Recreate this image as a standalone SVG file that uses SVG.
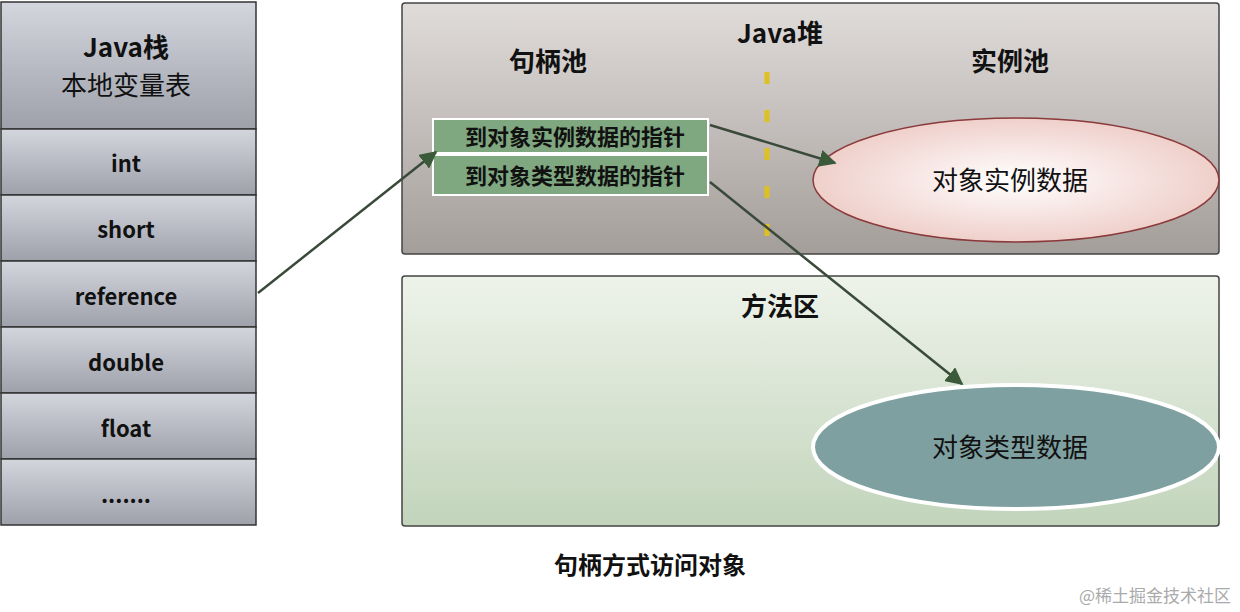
<svg xmlns="http://www.w3.org/2000/svg" width="1240" height="612" viewBox="0 0 1240 612">
<style>
text{font-family:"Noto Sans CJK SC","Noto Sans",sans-serif;text-anchor:middle;fill:#111}
.b{font-weight:bold}
.cell{stroke:#333;stroke-width:1.5}
.ptr{fill:#7fa880;stroke:#fff;stroke-width:2}
.conn{stroke:#3a4a3a;stroke-width:2.5;fill:none;marker-end:url(#ah)}
</style>
<defs>
<linearGradient id="gs" x1="0" y1="0" x2="0" y2="1"><stop offset="0" stop-color="#d4d6de"/><stop offset="1" stop-color="#9ea0aa"/></linearGradient>
<linearGradient id="gh" x1="0" y1="0" x2="0" y2="1"><stop offset="0" stop-color="#e0dcda"/><stop offset="1" stop-color="#a49e9a"/></linearGradient>
<linearGradient id="gm" x1="0" y1="0" x2="0" y2="1"><stop offset="0" stop-color="#eef3ea"/><stop offset="1" stop-color="#c2d4bb"/></linearGradient>
<radialGradient id="ge1" cx="0.5" cy="0.5" r="0.6"><stop offset="0" stop-color="#fff"/><stop offset="1" stop-color="#ecc6c0"/></radialGradient>
<marker id="ah" viewBox="0 0 10 10" refX="9" refY="5" markerWidth="7" markerHeight="7" orient="auto"><path d="M0,0L10,5L0,10z" fill="#3a5a3a"/></marker>
</defs>
<rect width="1240" height="612" fill="#fff"/>
<g id="stack">
<rect class="cell" x="1" y="2" width="255" height="127" fill="url(#gs)"/>
<text x="126" y="57" font-size="26" class="b">Java栈</text>
<text x="126" y="95" font-size="26">本地变量表</text>
<rect class="cell" x="1" y="129" width="255" height="66" fill="url(#gs)"/><text x="126" y="172" font-size="22" class="b">int</text>
<rect class="cell" x="1" y="195" width="255" height="66" fill="url(#gs)"/><text x="126" y="238" font-size="22" class="b">short</text>
<rect class="cell" x="1" y="261" width="255" height="66" fill="url(#gs)"/><text x="126" y="305" font-size="22" class="b">reference</text>
<rect class="cell" x="1" y="327" width="255" height="66" fill="url(#gs)"/><text x="126" y="371" font-size="22" class="b">double</text>
<rect class="cell" x="1" y="393" width="255" height="66" fill="url(#gs)"/><text x="126" y="437" font-size="22" class="b">float</text>
<rect class="cell" x="1" y="459" width="255" height="66" fill="url(#gs)"/><text x="126" y="503" font-size="22" class="b">.......</text>
</g>
<g id="heap">
<rect x="402" y="3" width="817" height="251" rx="3" fill="url(#gh)" stroke="#444" stroke-width="1.5"/>
<text x="780" y="43" font-size="26" class="b">Java堆</text>
<text x="548" y="71" font-size="26" class="b">句柄池</text>
<text x="1010" y="71" font-size="26" class="b">实例池</text>
<line x1="767" y1="72" x2="767" y2="240" stroke="#e0c020" stroke-width="5" stroke-dasharray="12,26"/>
</g>
<g id="ptr1"><rect class="ptr" x="433" y="119" width="275" height="34"/><text x="575" y="145" font-size="22" class="b">到对象实例数据的指针</text></g>
<g id="ptr2"><rect class="ptr" x="433" y="155" width="275" height="40"/><text x="575" y="184" font-size="22" class="b">到对象类型数据的指针</text></g>
<g id="inst"><ellipse cx="1016" cy="180" rx="203" ry="62" fill="url(#ge1)" stroke="#8a3a3a" stroke-width="1.5"/><text x="1010" y="190" font-size="26">对象实例数据</text></g>
<g id="method">
<rect x="402" y="276" width="817" height="250" rx="3" fill="url(#gm)" stroke="#444" stroke-width="1.5"/>
<text x="780" y="316" font-size="26" class="b">方法区</text>
</g>
<g id="type"><ellipse cx="1016" cy="447" rx="203" ry="62" fill="#7fa0a0" stroke="#fff" stroke-width="4"/><text x="1010" y="457" font-size="26">对象类型数据</text></g>
<g id="connectors">
<line class="conn" x1="258" y1="293" x2="436" y2="152"/>
<line class="conn" x1="710" y1="125" x2="835" y2="163"/>
<line class="conn" x1="710" y1="182" x2="962" y2="384"/>
</g>
<text x="650" y="574" font-size="24" class="b">句柄方式访问对象</text>
<text x="1155" y="602" font-size="17" style="fill:#aaa">@稀土掘金技术社区</text>
</svg>
